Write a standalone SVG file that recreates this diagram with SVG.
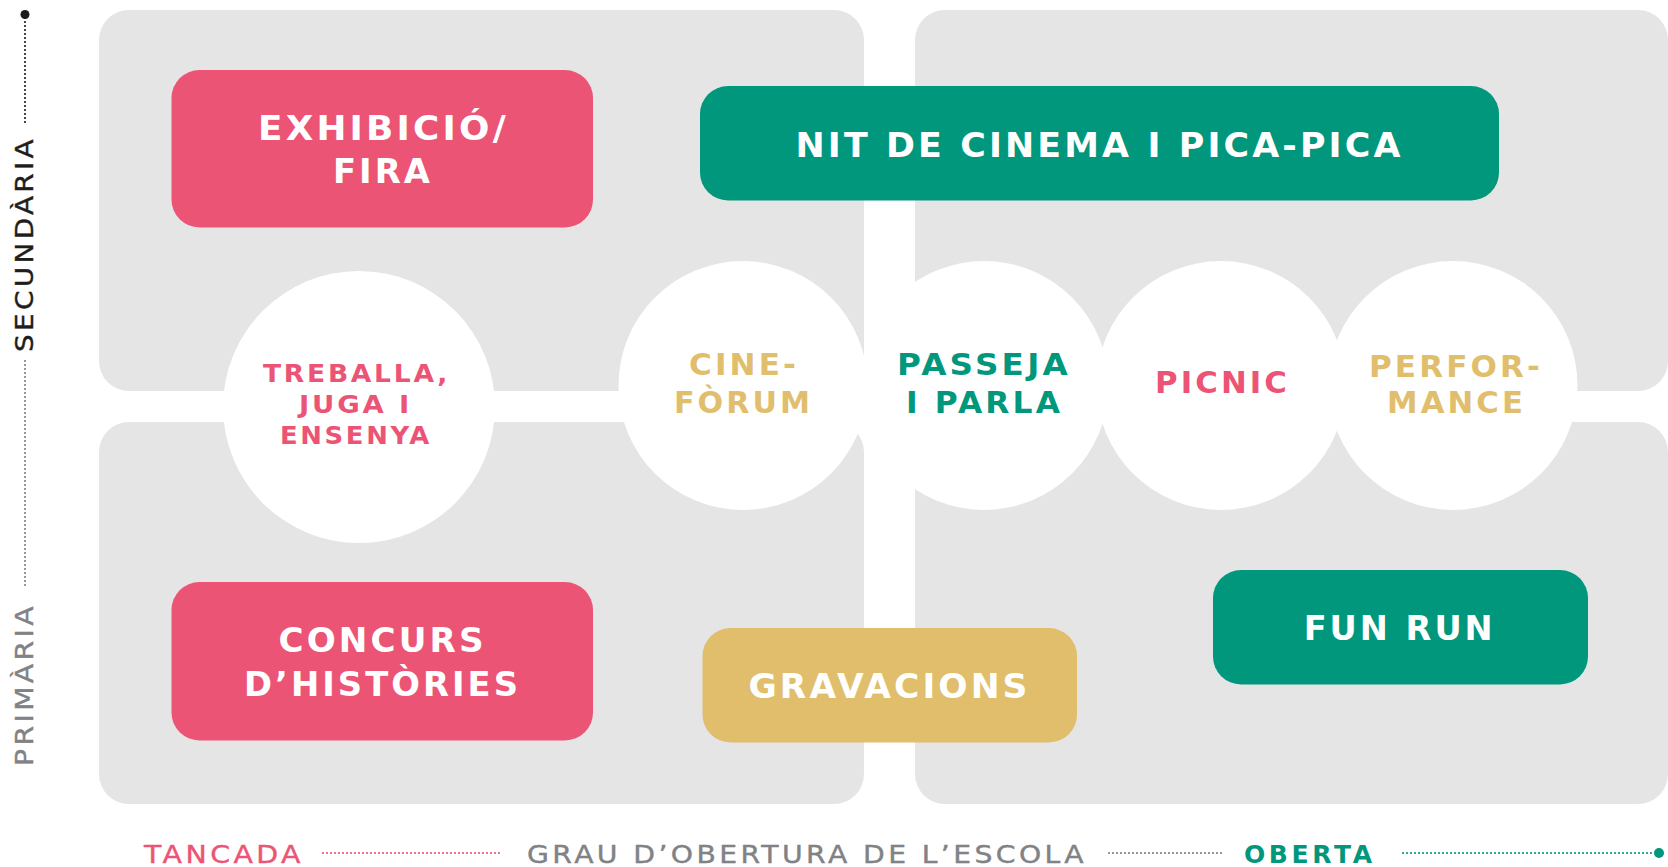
<svg xmlns="http://www.w3.org/2000/svg" width="1668" height="867" viewBox="0 0 1668 867">
<style>
  .panel { fill: #E5E5E5; }
  .circ { fill: #FFFFFF; }
  .pink { fill: #EC5475; }
  .green { fill: #00977D; }
  .gold { fill: #E0BE6C; }
  .box-t { fill: #FFFFFF; font-family: "DejaVu Sans", "Liberation Sans", sans-serif; font-weight: 700; font-size: 33.5px; letter-spacing: 3px; }
  .circ-t { font-family: "DejaVu Sans", "Liberation Sans", sans-serif; font-weight: 700; font-size: 30px; letter-spacing: 3px; }
  .small-t { font-family: "DejaVu Sans", "Liberation Sans", sans-serif; font-weight: 700; font-size: 24.5px; letter-spacing: 2.5px; }
  .axis-t { font-family: "DejaVu Sans", "Liberation Sans", sans-serif; font-weight: 400; font-size: 25px; letter-spacing: 3px; stroke-width: 0.4px; }
  .axis-b { font-family: "DejaVu Sans", "Liberation Sans", sans-serif; font-weight: 700; font-size: 25px; letter-spacing: 3px; }
  .dot { fill: none; stroke-width: 2.2; stroke-linecap: round; stroke-dasharray: 0 4; }
</style>
<rect width="1668" height="867" fill="#FFFFFF"/>
<g id="panels">
  <rect class="panel" x="99" y="10" width="765" height="381" rx="30"/>
  <rect class="panel" x="915" y="10" width="753" height="381" rx="30"/>
  <rect class="panel" x="99" y="422" width="765" height="382" rx="30"/>
  <rect class="panel" x="915" y="422" width="753" height="382" rx="30"/>
</g>
<g id="exhibicio">
  <rect class="pink" x="171.5" y="70" width="421.5" height="157.5" rx="28"/>
  <text class="box-t" x="258" y="140" textLength="251" lengthAdjust="spacingAndGlyphs">EXHIBICIÓ/</text>
  <text class="box-t" x="333" y="183" textLength="100" lengthAdjust="spacingAndGlyphs">FIRA</text>
</g>
<g id="nit-cinema">
  <rect class="green" x="700" y="86" width="799" height="114.5" rx="28"/>
  <text class="box-t" x="795.5" y="156.7" textLength="608" lengthAdjust="spacingAndGlyphs">NIT DE CINEMA I PICA-PICA</text>
</g>
<g id="concurs">
  <rect class="pink" x="171.5" y="582" width="421.5" height="158.5" rx="28"/>
  <text class="box-t" x="278.6" y="651.7" textLength="208" lengthAdjust="spacingAndGlyphs">CONCURS</text>
  <text class="box-t" x="244" y="695.6" textLength="277" lengthAdjust="spacingAndGlyphs">D’HISTÒRIES</text>
</g>
<g id="gravacions">
  <rect class="gold" x="702.5" y="628" width="374.5" height="114.5" rx="28"/>
  <text class="box-t" x="748.5" y="698" textLength="282" lengthAdjust="spacingAndGlyphs">GRAVACIONS</text>
</g>
<g id="fun-run">
  <rect class="green" x="1213" y="570" width="375" height="114.5" rx="28"/>
  <text class="box-t" x="1303.7" y="640" textLength="192" lengthAdjust="spacingAndGlyphs">FUN RUN</text>
</g>
<g id="treballa">
  <circle class="circ" cx="359" cy="407" r="136"/>
  <text class="small-t pink" x="263" y="381.7" textLength="187" lengthAdjust="spacingAndGlyphs">TREBALLA,</text>
  <text class="small-t pink" x="299" y="413.3" textLength="113" lengthAdjust="spacingAndGlyphs">JUGA I</text>
  <text class="small-t pink" x="280" y="444" textLength="152" lengthAdjust="spacingAndGlyphs">ENSENYA</text>
</g>
<g id="cine-forum">
  <circle class="circ" cx="743" cy="385.5" r="124.5"/>
  <text class="circ-t gold" x="689" y="375" textLength="110" lengthAdjust="spacingAndGlyphs">CINE-</text>
  <text class="circ-t gold" x="674" y="412.7" textLength="139" lengthAdjust="spacingAndGlyphs">FÒRUM</text>
</g>
<g id="passeja">
  <circle class="circ" cx="984" cy="385.5" r="124.5"/>
  <text class="circ-t green" x="897" y="375" textLength="174" lengthAdjust="spacingAndGlyphs">PASSEJA</text>
  <text class="circ-t green" x="906" y="412.7" textLength="157" lengthAdjust="spacingAndGlyphs">I PARLA</text>
</g>
<g id="picnic">
  <circle class="circ" cx="1221" cy="385.5" r="124.5"/>
  <text class="circ-t pink" x="1155" y="393.3" textLength="135" lengthAdjust="spacingAndGlyphs">PICNIC</text>
</g>
<g id="performance">
  <circle class="circ" cx="1453" cy="385.5" r="124.5"/>
  <text class="circ-t gold" x="1369" y="376.7" textLength="174" lengthAdjust="spacingAndGlyphs">PERFOR-</text>
  <text class="circ-t gold" x="1387" y="413" textLength="139" lengthAdjust="spacingAndGlyphs">MANCE</text>
</g>
<g id="axes">
  <line class="dot" x1="25" y1="18" x2="25" y2="123" stroke="#1D1D1B"/>
  <circle cx="25" cy="14.5" r="4.5" fill="#1D1D1B"/>
  <line class="dot" x1="25" y1="361" x2="25" y2="589" stroke="#808285"/>
  <text class="axis-t" fill="#1D1D1B" stroke="#1D1D1B" transform="translate(33,352) rotate(-90)" x="0" y="0" textLength="216" lengthAdjust="spacingAndGlyphs">SECUNDÀRIA</text>
  <text class="axis-t" fill="#808285" stroke="#808285" transform="translate(33,766) rotate(-90)" x="0" y="0" textLength="163" lengthAdjust="spacingAndGlyphs">PRIMÀRIA</text>
  <line class="dot" x1="323" y1="853" x2="503" y2="853" stroke="#EC5475"/>
  <line class="dot" x1="1109" y1="853" x2="1223" y2="853" stroke="#808285"/>
  <line class="dot" x1="1403" y1="853" x2="1654" y2="853" stroke="#00977D"/>
  <circle cx="1659" cy="853" r="5" fill="#00977D"/>
  <text class="axis-t" fill="#EC5475" stroke="#EC5475" x="144" y="863" textLength="160" lengthAdjust="spacingAndGlyphs">TANCADA</text>
  <text class="axis-t" fill="#808285" stroke="#808285" x="527" y="863" textLength="560" lengthAdjust="spacingAndGlyphs">GRAU D’OBERTURA DE L’ESCOLA</text>
  <text class="axis-b" fill="#00977D" x="1244" y="863" textLength="131" lengthAdjust="spacing">OBERTA</text>
</g>
</svg>
